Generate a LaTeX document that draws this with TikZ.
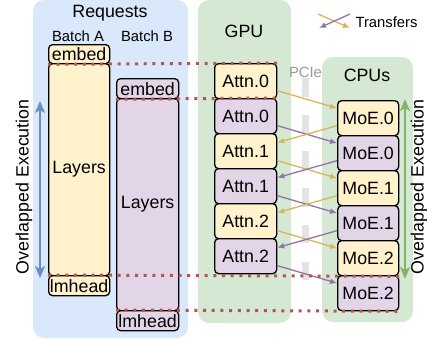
\documentclass[tikz,border=0pt]{standalone}
\usepackage{fontspec}
\setmainfont{Liberation Sans}
\usetikzlibrary{arrows.meta}

\definecolor{reqblue}{HTML}{DAE8FC}
\definecolor{devgreen}{HTML}{D5E8D4}
\definecolor{batchA}{HTML}{FFF2CC}
\definecolor{batchB}{HTML}{E1D5E7}
\definecolor{arrowblue}{HTML}{6C8EBF}
\definecolor{arrowgreen}{HTML}{82B366}
\definecolor{xferA}{HTML}{D6B656}
\definecolor{xferB}{HTML}{9673A6}
\definecolor{syncred}{HTML}{B85450}
\definecolor{linkgray}{HTML}{E3E3E3}
\definecolor{labelgray}{HTML}{9A9A9A}

\tikzset{
  panel/.style={fill=#1, draw=none, rounded corners=11pt},
  blk/.style={draw=black, line width=1.3pt, rounded corners=4pt, inner sep=0pt,
    anchor=north west, font=\fontsize{17.8}{18}\selectfont},
  blkA/.style={blk, fill=batchA},
  blkB/.style={blk, fill=batchB},
  xfer/.style={line width=1.3pt, -{Latex[length=7pt,width=6pt]}},
  sync/.style={syncred, line width=3pt, dash pattern=on 3pt off 5.7pt},
  span/.style={line width=1.5pt, {Stealth[length=12pt,width=10pt,inset=3pt]}-{Stealth[length=12pt,width=10pt,inset=3pt]}},
  big/.style={font=\fontsize{17.8}{18}\selectfont},
  small/.style={font=\fontsize{14.8}{15}\selectfont},
}

\begin{document}
\begin{tikzpicture}[x=1pt, y=-1pt]
\useasboundingbox (0,0) rectangle (427,343);

% panels
\fill[panel=reqblue] (33,0) rectangle (188,338);
\fill[panel=devgreen] (198,0) rectangle (291,323);
\fill[panel=devgreen] (322,57) rectangle (413,322);

% PCIe link between the devices
\draw[linkgray, line width=7pt, dash pattern=on 18.5pt off 18.2pt] (305.5,78) -- (305.5,281);
\node[small, text=labelgray, anchor=center] (pcie) at (305.5,72) {PCIe};

% titles
\node[big] (req) at (110,13) {Requests};
\node[small] (ba) at (78,36) {Batch A};
\node[small] (bb) at (147,36) {Batch B};
\node[big] (gpu) at (244,31) {GPU};
\node[big] (cpu) at (367,75) {CPUs};

% batch A request
\node[blkA, minimum width=61pt, minimum height=19pt] (Aemb) at (48,44) {embed};
\node[blkA, minimum width=61pt, minimum height=212pt] (Alay) at (48,63) {Layers};
\node[blkA, minimum width=61pt, minimum height=20pt] (Alm) at (48,275) {lmhead};

% batch B request
\node[blkB, minimum width=62pt, minimum height=20pt] (Bemb) at (116,78) {embed};
\node[blkB, minimum width=62pt, minimum height=212pt] (Blay) at (116,98) {Layers};
\node[blkB, minimum width=62pt, minimum height=20pt] (Blm) at (116,310) {lmhead};

% attention on the GPU
\foreach \i in {0,1,2} {
  \node[blkA, minimum width=62pt, minimum height=35pt] (AY\i) at (214,63+70*\i) {Attn.\i};
  \node[blkB, minimum width=62pt, minimum height=35pt] (AP\i) at (214,98+70*\i) {Attn.\i};
}

% experts on the CPUs
\foreach \i in {0,1,2} {
  \node[blkA, minimum width=61pt, minimum height=35pt] (MY\i) at (337,100+70*\i) {MoE.\i};
  \node[blkB, minimum width=61pt, minimum height=35pt] (MP\i) at (337,135+70*\i) {MoE.\i};
}

% transfers GPU -> CPU
\foreach \i in {0,1,2} {
  \draw[xfer, xferA] ([yshift=-9.5pt]AY\i.east) -- ([yshift=10pt]MY\i.west);
  \draw[xfer, xferB] ([yshift=-9.5pt]AP\i.east) -- ([yshift=10pt]MP\i.west);
}
% transfers CPU -> GPU
\foreach \i/\j in {0/1,1/2} {
  \draw[xfer, xferA] ([yshift=-7.5pt]MY\i.west) -- ([yshift=8.5pt]AY\j.east);
  \draw[xfer, xferB] ([yshift=-7.5pt]MP\i.west) -- ([yshift=8.5pt]AP\j.east);
}

% synchronisation lines
\draw[sync] (Aemb.south west) -- (AY0.north east);
\draw[sync] (Bemb.south west) -- (AP0.north east);
\draw[sync] (Alm.north west) -- (MY2.south east);
\draw[sync] (Blm.north west) -- (MP2.south east);

% overlapped execution spans
\coordinate (lt) at (40,101);
\coordinate (lb) at (40,278);
\draw[span, arrowblue] (lt) -- (lb);
\node[big, rotate=90] (lov) at (24,187) {Overlapped Execution};

\coordinate (rt) at (405,99);
\coordinate (rb) at (405,279);
\draw[span, arrowgreen] (rt) -- (rb);
\node[big, rotate=90] (rov) at (419,187) {Overlapped Execution};

% legend
\coordinate (la1) at (318,14);
\coordinate (la2) at (350,28);
\coordinate (lb1) at (350,14);
\coordinate (lb2) at (319,28);
\draw[xfer, xferA] (la1) -- (la2);
\draw[xfer, xferB] (lb1) -- (lb2);
\node[small, anchor=west] (leg) at (352,22) {Transfers};
\end{tikzpicture}
\end{document}
